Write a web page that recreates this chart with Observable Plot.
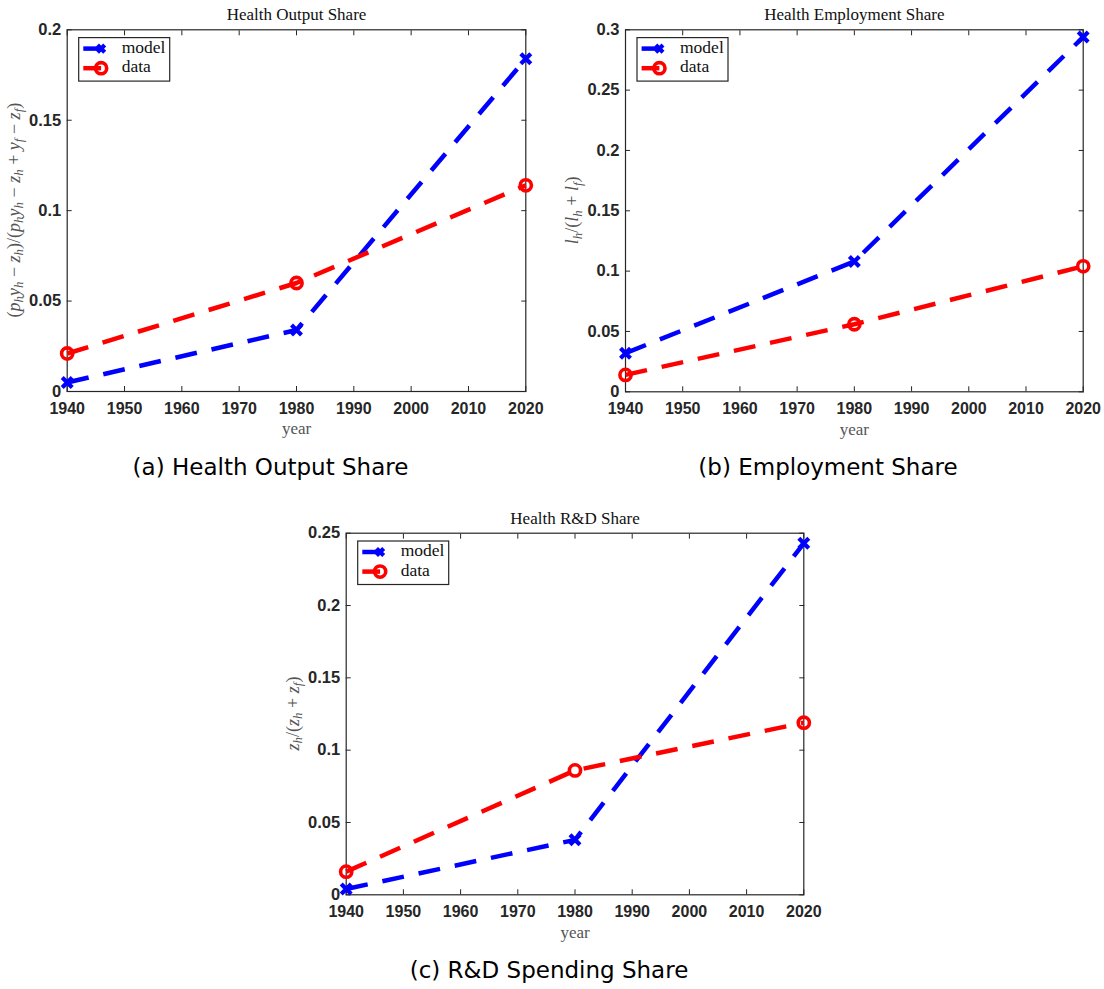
<!DOCTYPE html>
<html>
<head>
<meta charset="utf-8">
<script src="https://cdn.jsdelivr.net/npm/d3@7"></script>
<script src="https://cdn.jsdelivr.net/npm/@observablehq/plot@0.6"></script>
<style>
  html, body { margin: 0; padding: 0; background: #fff; }
  #root { position: relative; width: 1104px; height: 989px; background: #fff; overflow: hidden; }
  .panel { position: absolute; }
  .cap { position: absolute; font-family: "DejaVu Sans", sans-serif; font-size: 23px; color: #000; white-space: nowrap; transform: translate(-50%, -50%); line-height: 1; }
</style>
</head>
<body>
<div id="root"></div>
<script>
// ---- data ----
const years = [1940, 1980, 2020];
const xTicks = [1940, 1950, 1960, 1970, 1980, 1990, 2000, 2010, 2020];

const outputModel = [0.005, 0.034, 0.184];
const outputData  = [0.021, 0.060, 0.114];
const outputTicks = [0, 0.05, 0.1, 0.15, 0.2];

const employModel = [0.032, 0.108, 0.294];
const employData  = [0.014, 0.056, 0.104];
const employTicks = [0, 0.05, 0.1, 0.15, 0.2, 0.25, 0.3];

const rdModel = [0.004, 0.038, 0.243];
const rdData  = [0.016, 0.086, 0.119];
const rdTicks = [0, 0.05, 0.1, 0.15, 0.2, 0.25];

const seriesNames = ["model", "data"];
const titles = ["Health Output Share", "Health Employment Share", "Health R&D Share"];
const captions = ["(a) Health Output Share", "(b) Employment Share", "(c) R&D Spending Share"];
const xLabel = "year";
// y labels: [text, kind] kind: r = roman, i = italic, s = italic subscript
const yLabelA = [["(", "r"], ["p", "i"], ["h", "s"], ["y", "i"], ["h", "s"], [" − ", "r"], ["z", "i"], ["h", "s"], [")/(", "r"],
  ["p", "i"], ["h", "s"], ["y", "i"], ["h", "s"], [" − ", "r"], ["z", "i"], ["h", "s"], [" + ", "r"], ["y", "i"], ["f", "s"], [" − ", "r"], ["z", "i"], ["f", "s"], [")", "r"]];
const yLabelB = [["l", "i"], ["h", "s"], ["/(", "r"], ["l", "i"], ["h", "s"], [" + ", "r"], ["l", "i"], ["f", "s"], [")", "r"]];
const yLabelC = [["z", "i"], ["h", "s"], ["/(", "r"], ["z", "i"], ["h", "s"], [" + ", "r"], ["z", "i"], ["f", "s"], [")", "r"]];

const BLUE = "#0000ff", RED = "#ff0000", AX = "#262626";
const DASH = "22,15";
const fmtY = d3.format("~g");

function panel(cfg) {
  const {left, top, width, height, m, yDomain, yTicks, model, data, title, ylab} = cfg;
  const modelRows = years.map((y, i) => ({year: y, value: model[i]}));
  const dataRows = years.map((y, i) => ({year: y, value: data[i]}));
  const blank = () => "";
  const svg = Plot.plot({
    width, height,
    marginLeft: m[0], marginRight: m[1], marginTop: m[2], marginBottom: m[3],
    x: {domain: [1940, 2020]},
    y: {domain: yDomain},
    style: {fontFamily: "Liberation Sans, Arial, sans-serif", background: "transparent", overflow: "visible"},
    marks: [
      Plot.axisX({anchor: "bottom", ticks: xTicks, tickSize: 0, tickPadding: 11, tickFormat: "d", fontSize: 16, fontWeight: "bold", color: AX, label: null}),
      Plot.axisX({anchor: "bottom", ticks: xTicks, tickSize: -5, tickFormat: blank, color: AX, label: null}),
      Plot.axisX({anchor: "top", ticks: xTicks, tickSize: -5, tickFormat: blank, color: AX, label: null}),
      Plot.axisY({anchor: "left", ticks: yTicks, tickSize: 0, tickPadding: 6, tickFormat: fmtY, fontSize: 16.5, fontWeight: "bold", color: AX, label: null}),
      Plot.axisY({anchor: "left", ticks: yTicks, tickSize: -5, tickFormat: blank, color: AX, label: null}),
      Plot.axisY({anchor: "right", ticks: yTicks, tickSize: -5, tickFormat: blank, color: AX, label: null}),
      Plot.frame({stroke: AX, strokeWidth: 1.2}),
      Plot.line(modelRows, {x: "year", y: "value", stroke: BLUE, strokeWidth: 4.5, strokeDasharray: DASH, strokeLinecap: "butt"}),
      Plot.dot(modelRows, {x: "year", y: "value", symbol: "times", r: 4.6, stroke: BLUE, strokeWidth: 4.2}),
      Plot.line(dataRows, {x: "year", y: "value", stroke: RED, strokeWidth: 4.5, strokeDasharray: DASH, strokeLinecap: "butt"}),
      Plot.dot(dataRows, {x: "year", y: "value", symbol: "circle", r: 5.6, stroke: RED, strokeWidth: 3.6, fill: "none"}),
      Plot.text([title], {frameAnchor: "top", dy: -15, text: d => d, fontFamily: "Liberation Serif, serif", fontSize: 17, fill: "#111", lineAnchor: "middle"}),
      Plot.text([xLabel], {frameAnchor: "bottom", dy: 37.3, text: d => d, fontFamily: "Liberation Serif, serif", fontSize: 17, fill: "#555", lineAnchor: "middle"})
    ]
  });
  const s = d3.select(svg);
  const boxL = m[0], boxT = m[2], boxB = height - m[3];
  // y label (math)
  const fs = 18;
  const t = s.append("text")
    .attr("transform", `translate(${boxL - 51},${(boxT + boxB) / 2}) rotate(-90)`)
    .attr("text-anchor", "middle").attr("dominant-baseline", "middle")
    .attr("font-family", "Liberation Serif, serif").attr("font-size", fs).attr("fill", "#555");
  let shifted = false;
  ylab.forEach(([str, kind]) => {
    const ts = t.append("tspan").text(str);
    if (kind === "s") {
      ts.attr("font-style", "italic").attr("font-size", fs * 0.72).attr("dy", shifted ? 0 : fs * 0.25);
      shifted = true;
    } else {
      if (kind === "i") ts.attr("font-style", "italic");
      if (shifted) { ts.attr("dy", -fs * 0.25); shifted = false; }
    }
  });
  // legend
  const lg = s.append("g").attr("transform", `translate(${boxL + 12},${boxT + 8.3})`);
  lg.append("rect").attr("width", 91).attr("height", 43.5).attr("fill", "#fff").attr("stroke", AX).attr("stroke-width", 1.2);
  seriesNames.forEach((name, i) => {
    const yy = 11 + i * 19.6;
    const col = i === 0 ? BLUE : RED;
    lg.append("line").attr("x1", 4.6).attr("x2", 22.4).attr("y1", yy).attr("y2", yy).attr("stroke", col).attr("stroke-width", 4.5);
    if (i === 0) {
      lg.append("path").attr("d", "M-3.6,-3.6L3.6,3.6M-3.6,3.6L3.6,-3.6").attr("transform", `translate(22.4,${yy})`).attr("stroke", col).attr("stroke-width", 4.2).attr("fill", "none");
    } else {
      lg.append("circle").attr("cx", 22.4).attr("cy", yy).attr("r", 5.6).attr("stroke", col).attr("stroke-width", 3.6).attr("fill", "none");
    }
    lg.append("text").attr("x", 43).attr("y", yy).attr("dominant-baseline", "middle").attr("text-anchor", "start")
      .attr("font-family", "Liberation Serif, serif").attr("font-size", 17.5).attr("fill", "#111").text(name);
  });
  const div = document.createElement("div");
  div.className = "panel";
  div.style.left = left + "px";
  div.style.top = top + "px";
  div.appendChild(svg);
  document.getElementById("root").appendChild(div);
}

function caption(text, cx, cy) {
  const d = document.createElement("div");
  d.className = "cap";
  d.style.left = cx + "px";
  d.style.top = cy + "px";
  d.textContent = text;
  document.getElementById("root").appendChild(d);
}

panel({left: 0, top: 0, width: 560, height: 440, m: [66.7, 34.7, 29.3, 49], yDomain: [0, 0.2], yTicks: outputTicks,
  model: outputModel, data: outputData, title: titles[0], ylab: yLabelA});
panel({left: 550, top: 0, width: 554, height: 440, m: [75, 21.3, 29.3, 48.7], yDomain: [0, 0.3], yTicks: employTicks,
  model: employModel, data: employData, title: titles[1], ylab: yLabelB});
panel({left: 270, top: 500, width: 560, height: 440, m: [75.7, 26.7, 32.7, 45.7], yDomain: [0, 0.25], yTicks: rdTicks,
  model: rdModel, data: rdData, title: titles[2], ylab: yLabelC});

caption(captions[0], 270.5, 467);
caption(captions[1], 828, 467);
caption(captions[2], 549, 970);
</script>
</body>
</html>
